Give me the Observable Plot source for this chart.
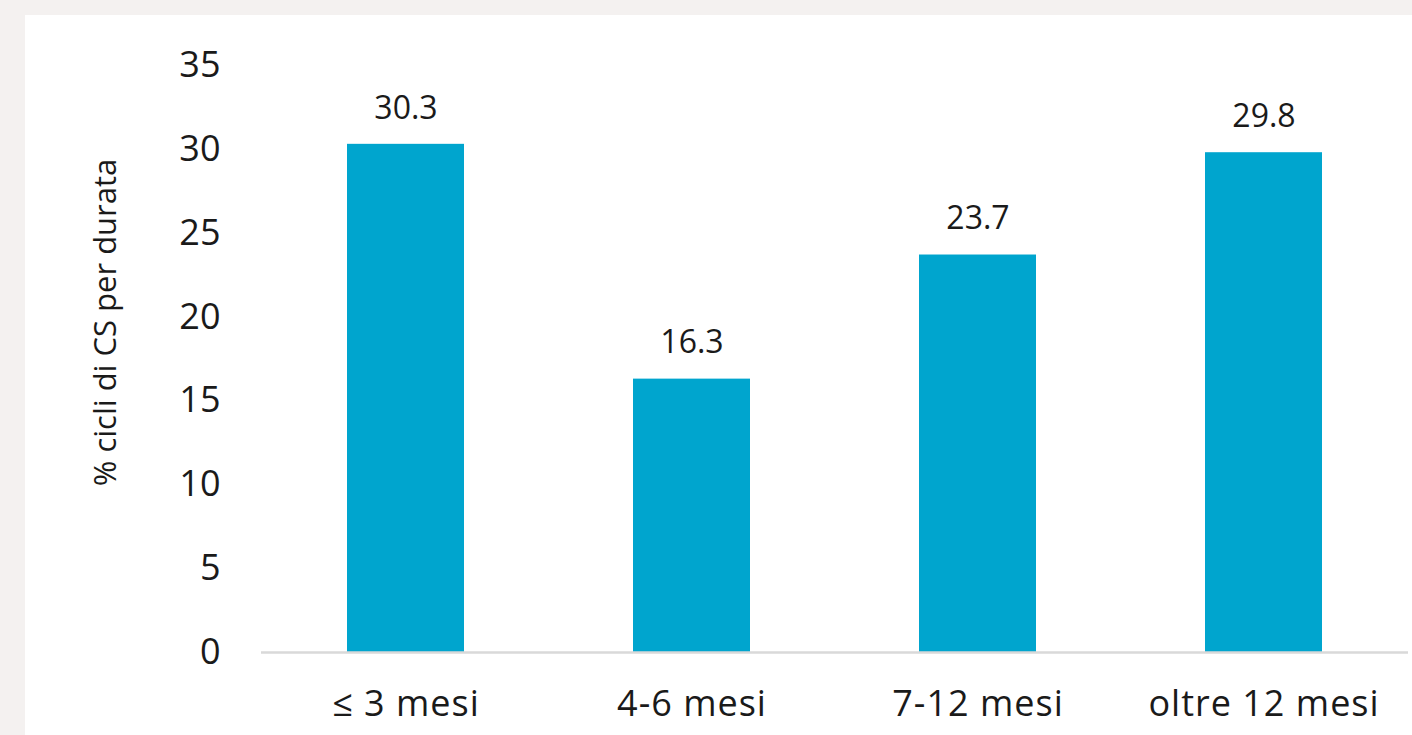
<!DOCTYPE html>
<html>
<head>
<meta charset="utf-8">
<script src="https://cdn.jsdelivr.net/npm/d3@7"></script>
<script src="https://cdn.jsdelivr.net/npm/@observablehq/plot@0.6"></script>
<style>
  html, body { margin: 0; padding: 0; background: #f4f1f0; width: 1412px; height: 735px; overflow: hidden; }
  #panel { position: absolute; left: 25px; top: 15px; width: 1387px; height: 720px; background: #ffffff; }
  #panel svg { display: block; }
  #panel svg g[aria-label="x-axis tick label"] text { letter-spacing: 1px; }
</style>
</head>
<body>
<div id="panel"></div>
<script>
const categories = ["≤ 3 mesi", "4-6 mesi", "7-12 mesi", "oltre 12 mesi"];
const values = [30.3, 16.3, 23.7, 29.8];
const yTicks = [0, 5, 10, 15, 20, 25, 30, 35];
const yLabel = "% cicli di CS per durata";

const data = categories.map((c, i) => ({category: c, value: values[i]}));
const font = "'Open Sans', sans-serif";

const chart = Plot.plot({
  width: 1387,
  height: 720,
  marginLeft: 236,
  marginRight: 4,
  marginTop: 50,
  marginBottom: 83,
  style: {background: "transparent", fontFamily: font, fontSize: "34px", color: "#1a1a1a"},
  x: {domain: categories, paddingInner: 0.59, paddingOuter: 0.295, label: null},
  y: {domain: [0, 35], ticks: yTicks, label: null},
  marks: [
    Plot.barY(data, {x: "category", y: "value", fill: "#00A5CE"}),
    Plot.ruleY([0], {stroke: "#d9d9d9", strokeWidth: 2.5}),
    Plot.axisY({ticks: yTicks, tickSize: 0, tickPadding: 41, label: null, fontSize: 36}),
    Plot.axisX({tickSize: 0, tickPadding: 38, label: null, fontSize: 36}),
    Plot.text(data, {x: "category", y: "value", text: d => d.value.toFixed(1), dy: -36, fontSize: 32, fill: "#1a1a1a"}),
    Plot.text([yLabel], {frameAnchor: "left", textAnchor: "middle", dx: -155, dy: -36.5, rotate: -90, fontSize: 31, fill: "#1a1a1a"})
  ]
});
document.getElementById("panel").appendChild(chart);
</script>
</body>
</html>
